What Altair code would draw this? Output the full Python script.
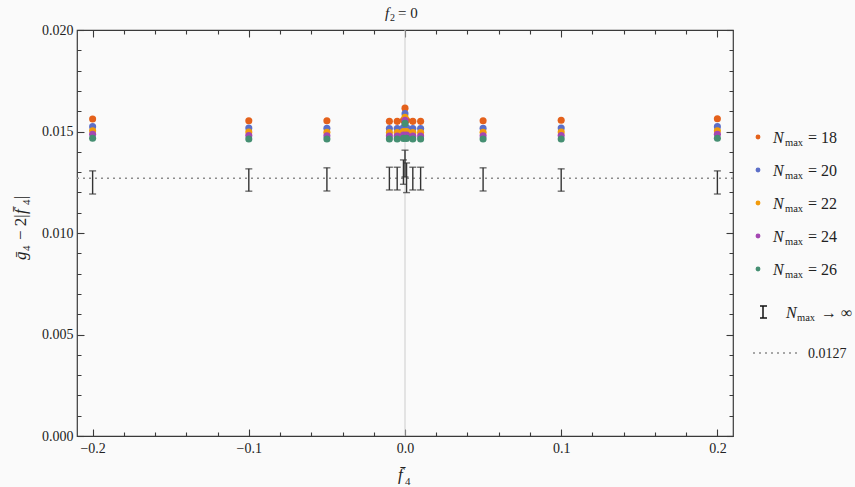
import altair as alt
import pandas as pd

FONT = "Liberation Serif"
INK = "#222222"
FRAME = "#3a3a3a"

# ---------------- data ----------------
f4 = [-0.2, -0.1, -0.05, -0.01, -0.005, -0.001, 0.0, 0.001, 0.005, 0.01, 0.05, 0.1, 0.2]
n18 = [0.01562, 0.01553, 0.01553, 0.01550, 0.01550, 0.01555, 0.01615, 0.01555, 0.01550, 0.01550, 0.01553, 0.01555, 0.01563]
n20 = [0.01524, 0.01517, 0.01516, 0.01515, 0.01515, 0.01520, 0.01588, 0.01520, 0.01515, 0.01515, 0.01516, 0.01517, 0.01524]
n22 = [0.01504, 0.01497, 0.01496, 0.01495, 0.01495, 0.01500, 0.01570, 0.01500, 0.01495, 0.01495, 0.01496, 0.01497, 0.01504]
n24 = [0.01486, 0.01480, 0.01479, 0.01478, 0.01478, 0.01483, 0.01555, 0.01483, 0.01478, 0.01478, 0.01479, 0.01480, 0.01486]
n26 = [0.01467, 0.01463, 0.01463, 0.01463, 0.01463, 0.01466, 0.01540, 0.01466, 0.01463, 0.01463, 0.01463, 0.01463, 0.01467]
series_labels = ["18", "20", "22", "24", "26"]
series_colors = ["#E4611B", "#5C6FC8", "#F29B0C", "#A447B2", "#458F72"]

ext_mean = [0.01249, 0.01261, 0.01264, 0.01268, 0.01268, 0.01300, 0.01342, 0.01272, 0.01268, 0.01268, 0.01264, 0.01261, 0.01249]
ext_err = [0.00057, 0.00055, 0.00057, 0.00056, 0.00056, 0.00060, 0.00066, 0.00073, 0.00056, 0.00056, 0.00057, 0.00055, 0.00057]
fit_value = [0.0127]

x_major = [-0.2, -0.1, 0.0, 0.1, 0.2]
x_minor = [-0.18, -0.16, -0.14, -0.12, -0.08, -0.06, -0.04, -0.02,
           0.02, 0.04, 0.06, 0.08, 0.12, 0.14, 0.16, 0.18]
y_major = [0.0, 0.005, 0.01, 0.015, 0.02]
y_minor = [0.001, 0.002, 0.003, 0.004, 0.006, 0.007, 0.008, 0.009,
           0.011, 0.012, 0.013, 0.014, 0.016, 0.017, 0.018, 0.019]
X_DOMAIN = [-0.21, 0.21]
Y_DOMAIN = [0.0, 0.02]

# ---------------- tables ----------------
rows = []
for k, (lab, vals) in enumerate(zip(series_labels, [n18, n20, n22, n24, n26])):
    for x, v in zip(f4, vals):
        rows.append({"f4": x, "g": v, "N": lab, "k": k})
dots_df = pd.DataFrame(rows)
err_df = pd.DataFrame({"f4": f4, "m": ext_mean, "e": ext_err})

W, H = 656, 406
TICK = 7
xs = alt.Scale(domain=X_DOMAIN, nice=False, zero=False)
ys = alt.Scale(domain=Y_DOMAIN, nice=False, zero=False)

X_IS_MAJOR = "abs(datum.value * 10 - round(datum.value * 10)) < 0.001"
Y_IS_MAJOR = "abs(datum.value * 200 - round(datum.value * 200)) < 0.001"


def frame_axis(orient, values, is_major, fmt=None, pad=4):
    kw = dict(
        orient=orient, values=values, offset=-TICK, tickSize=TICK, tickColor=FRAME, tickWidth=1.1,
        tickDash={"condition": {"test": is_major, "value": [20, 0]}, "value": [0, 3, 4, 30]},
        domain=False, grid=False, title="", labelOverlap=False,
    )
    if fmt:
        kw.update(labelExpr=f"{is_major} ? format(datum.value, '{fmt}') : ''",
                  labelFont=FONT, labelFontSize=14, labelColor=INK, labelPadding=pad)
    else:
        kw.update(labels=False)
    return alt.Axis(**kw)


x_bottom = frame_axis("bottom", x_major + x_minor, X_IS_MAJOR, ".1f", pad=5)
x_top = frame_axis("top", x_major + x_minor, X_IS_MAJOR)
y_left = frame_axis("left", y_major + y_minor, Y_IS_MAJOR, ".3f", pad=4)
y_right = frame_axis("right", y_major + y_minor, Y_IS_MAJOR)


def X(field, axis=None):
    return alt.X(field, type="quantitative", scale=xs, axis=axis)


def Y(field, axis=None):
    return alt.Y(field, type="quantitative", scale=ys, axis=axis)


layers = []

# zero line (carries the top frame ticks)
layers.append(alt.Chart(pd.DataFrame({"z0": [0.0]})).mark_rule(color="#cccccc", strokeWidth=1)
              .encode(x=X("z0", x_top)))

# invisible carrier of the right frame ticks
layers.append(alt.Chart(pd.DataFrame({"z1": [0.01]})).mark_rule(opacity=0)
              .encode(y=Y("z1", y_right)))

# fitted constant
layers.append(alt.Chart(pd.DataFrame({"fit": fit_value})).mark_rule(color="#8c8c8c", strokeWidth=1.6, strokeDash=[2, 4])
              .encode(y=Y("fit")))

# error bars
base_err = alt.Chart(err_df).transform_calculate(lo="datum.m - datum.e", hi="datum.m + datum.e")
layers.append(base_err.mark_rule(color="#333333", strokeWidth=1.4).encode(x=X("f4"), y=Y("lo"), y2="hi:Q"))
layers.append(base_err.mark_tick(color="#333333", orient="horizontal", size=7, thickness=1.4)
              .encode(x=X("f4"), y=Y("lo")))
layers.append(base_err.mark_tick(color="#333333", orient="horizontal", size=7, thickness=1.4)
              .encode(x=X("f4"), y=Y("hi")))

# points (carry the labelled bottom and left axes)
layers.append(alt.Chart(dots_df).mark_circle(size=50, opacity=1)
              .encode(x=X("f4", x_bottom), y=Y("g", y_left),
                      color=alt.Color("N:N", scale=alt.Scale(domain=series_labels, range=series_colors), legend=None),
                      order=alt.Order("k:Q")))


# ---------------- text helpers ----------------
def txt(s, x, y, size=15, style="normal", angle=0, dx=0, dy=0, align="left", baseline="alphabetic", color=INK):
    kw = dict(text=s, font=FONT, fontSize=size, fontStyle=style, align=align, baseline=baseline,
              color=color, dx=dx, dy=dy)
    if angle:
        kw["angle"] = angle
    return alt.Chart(pd.DataFrame({"t": [s]})).mark_text(**kw).encode(x=alt.value(x), y=alt.value(y))


# title f_2 = 0
layers += [
    txt("f", 308, -12, 15, "italic"),
    txt("2", 313, -9, 10),
    txt("= 0", 321, -12, 15),
]

# x label  f̄_4
layers += [
    txt("f\u0304", 321, 450, 17, "italic"),
    txt("4", 328, 455, 11),
]

# y label  ḡ_4 − 2|f̄_4|   (rotated, reading upward)
YL_X, YL_Y = -51, 230
layers += [
    txt("g\u0304", YL_X, YL_Y, 17, "italic", angle=270, dx=0),
    txt("4", YL_X, YL_Y, 11, angle=270, dx=9, dy=4),
    txt("\u2212 2|", YL_X, YL_Y, 17, angle=270, dx=20),
    txt("f\u0304", YL_X, YL_Y, 17, "italic", angle=270, dx=46),
    txt("4", YL_X, YL_Y, 11, angle=270, dx=55, dy=4),
    txt("|", YL_X, YL_Y, 17, angle=270, dx=61),
]

# legend
row_y = [107, 140, 173, 206, 239]
for lab, col, ry in zip(series_labels, series_colors, row_y):
    layers.append(alt.Chart(pd.DataFrame({"t": [lab]})).mark_circle(size=24, opacity=1, color=col)
                  .encode(x=alt.value(681), y=alt.value(ry)))
    layers += [
        txt("N", 696, ry + 6, 16, "italic"),
        txt("max", 708, ry + 9, 10.5),
        txt("= " + lab, 731, ry + 6, 16),
    ]

# N_max -> infinity legend entry
ey = 282
layers += [
    alt.Chart(pd.DataFrame({"t": ["e"]})).mark_rule(color="#111111", strokeWidth=1.5)
    .encode(x=alt.value(686), y=alt.value(ey - 6), y2=alt.value(ey + 6)),
    alt.Chart(pd.DataFrame({"t": ["e"]})).mark_rule(color="#111111", strokeWidth=1.5)
    .encode(x=alt.value(683), x2=alt.value(690), y=alt.value(ey - 6)),
    alt.Chart(pd.DataFrame({"t": ["e"]})).mark_rule(color="#111111", strokeWidth=1.5)
    .encode(x=alt.value(683), x2=alt.value(690), y=alt.value(ey + 6)),
    txt("N", 709, ey + 6, 16, "italic"),
    txt("max", 720, ey + 9, 10.5),
    txt("\u2192 \u221e", 744, ey + 6, 16),
]

# fit line legend entry
fy = 323
layers += [
    alt.Chart(pd.DataFrame({"t": ["d"]})).mark_rule(color="#8c8c8c", strokeWidth=1.6, strokeDash=[2, 4])
    .encode(x=alt.value(676), x2=alt.value(724), y=alt.value(fy)),
    txt("0.0127", 731, fy + 5, 14),
]

chart = (
    alt.layer(*layers)
    .resolve_axis(x="independent", y="independent")
    .properties(width=W, height=H, background="#fafafa",
                autosize=alt.AutoSizeParams(type="none"),
                padding={"left": 77, "top": 30, "right": 122, "bottom": 51})
    .configure_view(stroke=FRAME, strokeWidth=1.2)
)

chart.save("out.html", embed_options={"renderer": "svg", "actions": False})
